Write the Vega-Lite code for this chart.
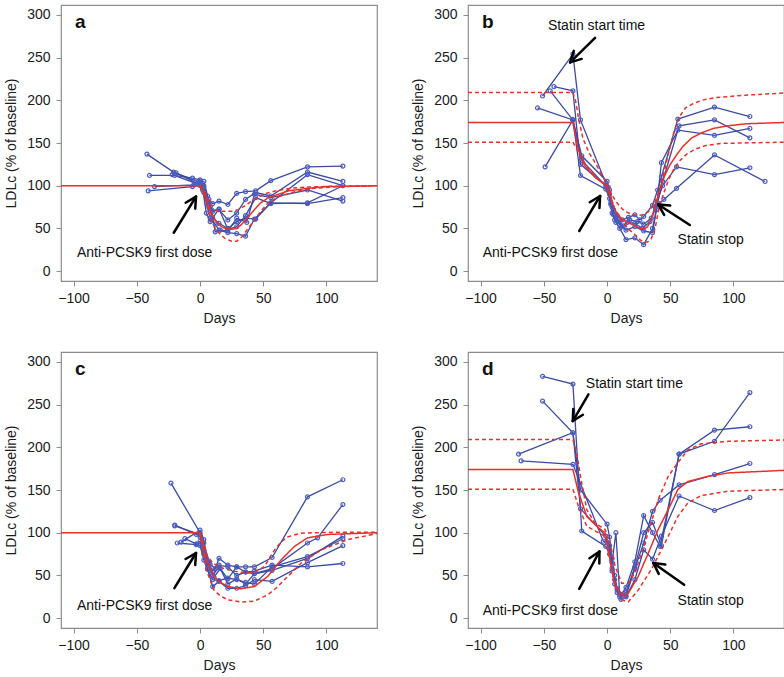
{
"$schema":"https://vega.github.io/schema/vega-lite/v6.json",
"background":"white",
"padding":{"left":4,"top":4,"right":0,"bottom":0},
"autosize":{"type":"pad"},
"columns":2,
"spacing":{"row":25,"column":33},
"datasets":{
"subj":[
{"p":"a","id":1,"day":-42,"ldl":137},{"p":"a","id":1,"day":-21,"ldl":116},{"p":"a","id":1,"day":0,"ldl":104},{"p":"a","id":1,"day":3,"ldl":98},{"p":"a","id":1,"day":7,"ldl":84},{"p":"a","id":1,"day":10,"ldl":79},{"p":"a","id":1,"day":15,"ldl":82},{"p":"a","id":1,"day":22,"ldl":78},{"p":"a","id":1,"day":29,"ldl":91},{"p":"a","id":1,"day":36,"ldl":93},{"p":"a","id":1,"day":44,"ldl":94},{"p":"a","id":1,"day":56,"ldl":106},{"p":"a","id":1,"day":85,"ldl":122},{"p":"a","id":1,"day":113,"ldl":123},
{"p":"a","id":2,"day":-40,"ldl":112},{"p":"a","id":2,"day":-20,"ldl":112},{"p":"a","id":2,"day":-6,"ldl":109},{"p":"a","id":2,"day":0,"ldl":107},{"p":"a","id":2,"day":3,"ldl":100},{"p":"a","id":2,"day":7,"ldl":80},{"p":"a","id":2,"day":10,"ldl":70},{"p":"a","id":2,"day":15,"ldl":72},{"p":"a","id":2,"day":22,"ldl":60},{"p":"a","id":2,"day":29,"ldl":68},{"p":"a","id":2,"day":36,"ldl":84},{"p":"a","id":2,"day":44,"ldl":92},{"p":"a","id":2,"day":56,"ldl":88},{"p":"a","id":2,"day":85,"ldl":116},{"p":"a","id":2,"day":113,"ldl":105},
{"p":"a","id":3,"day":-36,"ldl":99},{"p":"a","id":3,"day":-5,"ldl":101},{"p":"a","id":3,"day":0,"ldl":103},{"p":"a","id":3,"day":3,"ldl":92},{"p":"a","id":3,"day":7,"ldl":75},{"p":"a","id":3,"day":10,"ldl":62},{"p":"a","id":3,"day":15,"ldl":56},{"p":"a","id":3,"day":22,"ldl":50},{"p":"a","id":3,"day":29,"ldl":58},{"p":"a","id":3,"day":36,"ldl":62},{"p":"a","id":3,"day":44,"ldl":61},{"p":"a","id":3,"day":56,"ldl":80},{"p":"a","id":3,"day":85,"ldl":113},{"p":"a","id":3,"day":113,"ldl":100},
{"p":"a","id":4,"day":-41,"ldl":94},{"p":"a","id":4,"day":-6,"ldl":99},{"p":"a","id":4,"day":0,"ldl":100},{"p":"a","id":4,"day":2,"ldl":95},{"p":"a","id":4,"day":5,"ldl":80},{"p":"a","id":4,"day":8,"ldl":62},{"p":"a","id":4,"day":12,"ldl":55},{"p":"a","id":4,"day":15,"ldl":48},{"p":"a","id":4,"day":22,"ldl":45},{"p":"a","id":4,"day":29,"ldl":44},{"p":"a","id":4,"day":36,"ldl":41},{"p":"a","id":4,"day":43,"ldl":61},{"p":"a","id":4,"day":56,"ldl":80},{"p":"a","id":4,"day":85,"ldl":79},{"p":"a","id":4,"day":113,"ldl":86},
{"p":"a","id":5,"day":-19,"ldl":115},{"p":"a","id":5,"day":-4,"ldl":104},{"p":"a","id":5,"day":0,"ldl":106},{"p":"a","id":5,"day":3,"ldl":105},{"p":"a","id":5,"day":6,"ldl":88},{"p":"a","id":5,"day":9,"ldl":72},{"p":"a","id":5,"day":12,"ldl":46},{"p":"a","id":5,"day":16,"ldl":48},{"p":"a","id":5,"day":22,"ldl":47},{"p":"a","id":5,"day":29,"ldl":62},{"p":"a","id":5,"day":37,"ldl":57},{"p":"a","id":5,"day":43,"ldl":90},{"p":"a","id":5,"day":56,"ldl":86},{"p":"a","id":5,"day":85,"ldl":95},{"p":"a","id":5,"day":113,"ldl":82},
{"p":"a","id":6,"day":-22,"ldl":113},{"p":"a","id":6,"day":0,"ldl":101},{"p":"a","id":6,"day":2,"ldl":97},{"p":"a","id":6,"day":5,"ldl":68},{"p":"a","id":6,"day":8,"ldl":58},{"p":"a","id":6,"day":15,"ldl":73},{"p":"a","id":6,"day":22,"ldl":49},{"p":"a","id":6,"day":29,"ldl":52},{"p":"a","id":6,"day":36,"ldl":65},{"p":"a","id":6,"day":44,"ldl":86},{"p":"a","id":6,"day":56,"ldl":79},{"p":"a","id":6,"day":85,"ldl":80},{"p":"a","id":6,"day":113,"ldl":100},
{"p":"b","id":1,"day":-51,"ldl":205},{"p":"b","id":1,"day":-27,"ldl":254},{"p":"b","id":1,"day":-21,"ldl":177},{"p":"b","id":1,"day":-1,"ldl":103},{"p":"b","id":1,"day":1,"ldl":98},{"p":"b","id":1,"day":3,"ldl":80},{"p":"b","id":1,"day":5,"ldl":70},{"p":"b","id":1,"day":8,"ldl":65},{"p":"b","id":1,"day":12,"ldl":60},{"p":"b","id":1,"day":17,"ldl":63},{"p":"b","id":1,"day":22,"ldl":66},{"p":"b","id":1,"day":26,"ldl":60},{"p":"b","id":1,"day":29,"ldl":64},{"p":"b","id":1,"day":36,"ldl":77},{"p":"b","id":1,"day":40,"ldl":95},{"p":"b","id":1,"day":43,"ldl":110},{"p":"b","id":1,"day":56,"ldl":178},{"p":"b","id":1,"day":85,"ldl":192},{"p":"b","id":1,"day":113,"ldl":181},
{"p":"b","id":2,"day":-42,"ldl":216},{"p":"b","id":2,"day":-27,"ldl":211},{"p":"b","id":2,"day":-21,"ldl":125},{"p":"b","id":2,"day":-1,"ldl":100},{"p":"b","id":2,"day":2,"ldl":90},{"p":"b","id":2,"day":4,"ldl":75},{"p":"b","id":2,"day":6,"ldl":60},{"p":"b","id":2,"day":10,"ldl":55},{"p":"b","id":2,"day":15,"ldl":48},{"p":"b","id":2,"day":22,"ldl":52},{"p":"b","id":2,"day":29,"ldl":47},{"p":"b","id":2,"day":36,"ldl":45},{"p":"b","id":2,"day":40,"ldl":80},{"p":"b","id":2,"day":44,"ldl":105},{"p":"b","id":2,"day":57,"ldl":170},{"p":"b","id":2,"day":85,"ldl":177},{"p":"b","id":2,"day":113,"ldl":156},
{"p":"b","id":3,"day":-55,"ldl":191},{"p":"b","id":3,"day":-27,"ldl":177},{"p":"b","id":3,"day":-21,"ldl":112},{"p":"b","id":3,"day":-1,"ldl":96},{"p":"b","id":3,"day":2,"ldl":85},{"p":"b","id":3,"day":4,"ldl":68},{"p":"b","id":3,"day":7,"ldl":57},{"p":"b","id":3,"day":10,"ldl":50},{"p":"b","id":3,"day":15,"ldl":37},{"p":"b","id":3,"day":22,"ldl":39},{"p":"b","id":3,"day":29,"ldl":31},{"p":"b","id":3,"day":36,"ldl":50},{"p":"b","id":3,"day":39,"ldl":72},{"p":"b","id":3,"day":43,"ldl":127},{"p":"b","id":3,"day":56,"ldl":165},{"p":"b","id":3,"day":85,"ldl":159},{"p":"b","id":3,"day":113,"ldl":167},
{"p":"b","id":4,"day":-49,"ldl":122},{"p":"b","id":4,"day":-27,"ldl":177},{"p":"b","id":4,"day":-20,"ldl":135},{"p":"b","id":4,"day":0,"ldl":105},{"p":"b","id":4,"day":2,"ldl":95},{"p":"b","id":4,"day":5,"ldl":72},{"p":"b","id":4,"day":8,"ldl":62},{"p":"b","id":4,"day":12,"ldl":52},{"p":"b","id":4,"day":16,"ldl":57},{"p":"b","id":4,"day":22,"ldl":56},{"p":"b","id":4,"day":28,"ldl":50},{"p":"b","id":4,"day":34,"ldl":58},{"p":"b","id":4,"day":38,"ldl":75},{"p":"b","id":4,"day":44,"ldl":100},{"p":"b","id":4,"day":55,"ldl":122},{"p":"b","id":4,"day":85,"ldl":113},{"p":"b","id":4,"day":113,"ldl":121},
{"p":"b","id":5,"day":-45,"ldl":211},{"p":"b","id":5,"day":-27,"ldl":177},{"p":"b","id":5,"day":-20,"ldl":130},{"p":"b","id":5,"day":0,"ldl":98},{"p":"b","id":5,"day":3,"ldl":78},{"p":"b","id":5,"day":5,"ldl":66},{"p":"b","id":5,"day":9,"ldl":58},{"p":"b","id":5,"day":13,"ldl":53},{"p":"b","id":5,"day":18,"ldl":60},{"p":"b","id":5,"day":24,"ldl":58},{"p":"b","id":5,"day":29,"ldl":55},{"p":"b","id":5,"day":35,"ldl":62},{"p":"b","id":5,"day":40,"ldl":78},{"p":"b","id":5,"day":45,"ldl":84},{"p":"b","id":5,"day":55,"ldl":97},{"p":"b","id":5,"day":85,"ldl":136},{"p":"b","id":5,"day":125,"ldl":105},
{"p":"c","id":1,"day":-23,"ldl":158},{"p":"c","id":1,"day":0,"ldl":100},{"p":"c","id":1,"day":2,"ldl":85},{"p":"c","id":1,"day":5,"ldl":70},{"p":"c","id":1,"day":8,"ldl":63},{"p":"c","id":1,"day":12,"ldl":58},{"p":"c","id":1,"day":15,"ldl":70},{"p":"c","id":1,"day":22,"ldl":62},{"p":"c","id":1,"day":29,"ldl":60},{"p":"c","id":1,"day":36,"ldl":60},{"p":"c","id":1,"day":43,"ldl":60},{"p":"c","id":1,"day":57,"ldl":71},{"p":"c","id":1,"day":85,"ldl":142},{"p":"c","id":1,"day":113,"ldl":162},
{"p":"c","id":2,"day":-20,"ldl":109},{"p":"c","id":2,"day":-3,"ldl":98},{"p":"c","id":2,"day":0,"ldl":95},{"p":"c","id":2,"day":3,"ldl":80},{"p":"c","id":2,"day":6,"ldl":66},{"p":"c","id":2,"day":10,"ldl":55},{"p":"c","id":2,"day":15,"ldl":62},{"p":"c","id":2,"day":22,"ldl":60},{"p":"c","id":2,"day":29,"ldl":50},{"p":"c","id":2,"day":36,"ldl":54},{"p":"c","id":2,"day":43,"ldl":52},{"p":"c","id":2,"day":57,"ldl":58},{"p":"c","id":2,"day":85,"ldl":88},{"p":"c","id":2,"day":93,"ldl":94},{"p":"c","id":2,"day":113,"ldl":133},
{"p":"c","id":3,"day":-18,"ldl":88},{"p":"c","id":3,"day":-3,"ldl":86},{"p":"c","id":3,"day":0,"ldl":90},{"p":"c","id":3,"day":3,"ldl":75},{"p":"c","id":3,"day":6,"ldl":58},{"p":"c","id":3,"day":10,"ldl":45},{"p":"c","id":3,"day":15,"ldl":44},{"p":"c","id":3,"day":22,"ldl":47},{"p":"c","id":3,"day":29,"ldl":45},{"p":"c","id":3,"day":36,"ldl":42},{"p":"c","id":3,"day":43,"ldl":40},{"p":"c","id":3,"day":57,"ldl":60},{"p":"c","id":3,"day":85,"ldl":72},{"p":"c","id":3,"day":113,"ldl":93},
{"p":"c","id":4,"day":-12,"ldl":93},{"p":"c","id":4,"day":-3,"ldl":87},{"p":"c","id":4,"day":0,"ldl":85},{"p":"c","id":4,"day":3,"ldl":68},{"p":"c","id":4,"day":6,"ldl":57},{"p":"c","id":4,"day":10,"ldl":37},{"p":"c","id":4,"day":15,"ldl":43},{"p":"c","id":4,"day":22,"ldl":35},{"p":"c","id":4,"day":29,"ldl":35},{"p":"c","id":4,"day":36,"ldl":38},{"p":"c","id":4,"day":43,"ldl":45},{"p":"c","id":4,"day":57,"ldl":43},{"p":"c","id":4,"day":85,"ldl":65},{"p":"c","id":4,"day":113,"ldl":85},
{"p":"c","id":5,"day":-15,"ldl":89},{"p":"c","id":5,"day":0,"ldl":103},{"p":"c","id":5,"day":3,"ldl":92},{"p":"c","id":5,"day":6,"ldl":62},{"p":"c","id":5,"day":10,"ldl":50},{"p":"c","id":5,"day":15,"ldl":60},{"p":"c","id":5,"day":22,"ldl":46},{"p":"c","id":5,"day":29,"ldl":60},{"p":"c","id":5,"day":36,"ldl":54},{"p":"c","id":5,"day":43,"ldl":55},{"p":"c","id":5,"day":57,"ldl":62},{"p":"c","id":5,"day":85,"ldl":60},{"p":"c","id":5,"day":113,"ldl":64},
{"p":"c","id":6,"day":-20,"ldl":108},{"p":"c","id":6,"day":0,"ldl":98},{"p":"c","id":6,"day":3,"ldl":88},{"p":"c","id":6,"day":7,"ldl":65},{"p":"c","id":6,"day":11,"ldl":48},{"p":"c","id":6,"day":16,"ldl":58},{"p":"c","id":6,"day":22,"ldl":40},{"p":"c","id":6,"day":29,"ldl":46},{"p":"c","id":6,"day":36,"ldl":40},{"p":"c","id":6,"day":43,"ldl":52},{"p":"c","id":6,"day":57,"ldl":56},{"p":"c","id":6,"day":85,"ldl":70},{"p":"c","id":6,"day":113,"ldl":96},
{"p":"d","id":1,"day":-51,"ldl":283},{"p":"d","id":1,"day":-27,"ldl":274},{"p":"d","id":1,"day":-20,"ldl":102},{"p":"d","id":1,"day":-1,"ldl":84},{"p":"d","id":1,"day":2,"ldl":75},{"p":"d","id":1,"day":4,"ldl":55},{"p":"d","id":1,"day":6,"ldl":45},{"p":"d","id":1,"day":8,"ldl":35},{"p":"d","id":1,"day":11,"ldl":27},{"p":"d","id":1,"day":15,"ldl":30},{"p":"d","id":1,"day":22,"ldl":60},{"p":"d","id":1,"day":29,"ldl":100},{"p":"d","id":1,"day":36,"ldl":112},{"p":"d","id":1,"day":43,"ldl":85},{"p":"d","id":1,"day":57,"ldl":192},{"p":"d","id":1,"day":85,"ldl":220},{"p":"d","id":1,"day":113,"ldl":224},
{"p":"d","id":2,"day":-51,"ldl":254},{"p":"d","id":2,"day":-27,"ldl":217},{"p":"d","id":2,"day":-21,"ldl":150},{"p":"d","id":2,"day":0,"ldl":110},{"p":"d","id":2,"day":2,"ldl":95},{"p":"d","id":2,"day":4,"ldl":70},{"p":"d","id":2,"day":6,"ldl":50},{"p":"d","id":2,"day":8,"ldl":33},{"p":"d","id":2,"day":10,"ldl":25},{"p":"d","id":2,"day":15,"ldl":36},{"p":"d","id":2,"day":22,"ldl":66},{"p":"d","id":2,"day":29,"ldl":120},{"p":"d","id":2,"day":36,"ldl":100},{"p":"d","id":2,"day":42,"ldl":84},{"p":"d","id":2,"day":57,"ldl":192},{"p":"d","id":2,"day":85,"ldl":207},{"p":"d","id":2,"day":113,"ldl":264},
{"p":"d","id":3,"day":-70,"ldl":192},{"p":"d","id":3,"day":-27,"ldl":217},{"p":"d","id":3,"day":-21,"ldl":128},{"p":"d","id":3,"day":-1,"ldl":96},{"p":"d","id":3,"day":2,"ldl":85},{"p":"d","id":3,"day":4,"ldl":65},{"p":"d","id":3,"day":7,"ldl":100},{"p":"d","id":3,"day":10,"ldl":28},{"p":"d","id":3,"day":15,"ldl":26},{"p":"d","id":3,"day":22,"ldl":58},{"p":"d","id":3,"day":29,"ldl":88},{"p":"d","id":3,"day":36,"ldl":125},{"p":"d","id":3,"day":42,"ldl":138},{"p":"d","id":3,"day":57,"ldl":156},{"p":"d","id":3,"day":85,"ldl":168},{"p":"d","id":3,"day":113,"ldl":181},
{"p":"d","id":4,"day":-68,"ldl":184},{"p":"d","id":4,"day":-27,"ldl":180},{"p":"d","id":4,"day":-3,"ldl":90},{"p":"d","id":4,"day":0,"ldl":89},{"p":"d","id":4,"day":2,"ldl":80},{"p":"d","id":4,"day":4,"ldl":58},{"p":"d","id":4,"day":6,"ldl":40},{"p":"d","id":4,"day":8,"ldl":30},{"p":"d","id":4,"day":11,"ldl":22},{"p":"d","id":4,"day":15,"ldl":25},{"p":"d","id":4,"day":22,"ldl":45},{"p":"d","id":4,"day":29,"ldl":80},{"p":"d","id":4,"day":36,"ldl":69},{"p":"d","id":4,"day":43,"ldl":96},{"p":"d","id":4,"day":57,"ldl":143},{"p":"d","id":4,"day":85,"ldl":126},{"p":"d","id":4,"day":113,"ldl":141}
],
"model":[
{"p":"a","c":"med","day":-110,"ldl":100},{"p":"a","c":"med","day":0,"ldl":100},{"p":"a","c":"med","day":3,"ldl":92},{"p":"a","c":"med","day":6,"ldl":80},{"p":"a","c":"med","day":9,"ldl":68},{"p":"a","c":"med","day":12,"ldl":60},{"p":"a","c":"med","day":16,"ldl":53},{"p":"a","c":"med","day":20,"ldl":50},{"p":"a","c":"med","day":25,"ldl":49},{"p":"a","c":"med","day":29,"ldl":50},{"p":"a","c":"med","day":33,"ldl":55},{"p":"a","c":"med","day":38,"ldl":63},{"p":"a","c":"med","day":43,"ldl":72},{"p":"a","c":"med","day":48,"ldl":80},{"p":"a","c":"med","day":54,"ldl":86},{"p":"a","c":"med","day":60,"ldl":89},{"p":"a","c":"med","day":70,"ldl":94},{"p":"a","c":"med","day":85,"ldl":97},{"p":"a","c":"med","day":100,"ldl":99},{"p":"a","c":"med","day":140,"ldl":100},
{"p":"a","c":"hi","day":0,"ldl":100},{"p":"a","c":"hi","day":3,"ldl":94},{"p":"a","c":"hi","day":6,"ldl":85},{"p":"a","c":"hi","day":9,"ldl":77},{"p":"a","c":"hi","day":12,"ldl":72},{"p":"a","c":"hi","day":16,"ldl":70},{"p":"a","c":"hi","day":20,"ldl":70},{"p":"a","c":"hi","day":25,"ldl":70},{"p":"a","c":"hi","day":30,"ldl":72},{"p":"a","c":"hi","day":35,"ldl":76},{"p":"a","c":"hi","day":40,"ldl":81},{"p":"a","c":"hi","day":45,"ldl":86},{"p":"a","c":"hi","day":52,"ldl":91},{"p":"a","c":"hi","day":60,"ldl":94},{"p":"a","c":"hi","day":72,"ldl":97},{"p":"a","c":"hi","day":85,"ldl":98.5},{"p":"a","c":"hi","day":110,"ldl":99.5},{"p":"a","c":"hi","day":140,"ldl":100},
{"p":"a","c":"lo","day":0,"ldl":100},{"p":"a","c":"lo","day":3,"ldl":90},{"p":"a","c":"lo","day":6,"ldl":75},{"p":"a","c":"lo","day":9,"ldl":60},{"p":"a","c":"lo","day":12,"ldl":50},{"p":"a","c":"lo","day":16,"ldl":43},{"p":"a","c":"lo","day":20,"ldl":38},{"p":"a","c":"lo","day":25,"ldl":35},{"p":"a","c":"lo","day":29,"ldl":35},{"p":"a","c":"lo","day":33,"ldl":40},{"p":"a","c":"lo","day":38,"ldl":50},{"p":"a","c":"lo","day":43,"ldl":60},{"p":"a","c":"lo","day":48,"ldl":70},{"p":"a","c":"lo","day":54,"ldl":80},{"p":"a","c":"lo","day":62,"ldl":87},{"p":"a","c":"lo","day":75,"ldl":93},{"p":"a","c":"lo","day":90,"ldl":97},{"p":"a","c":"lo","day":110,"ldl":99},{"p":"a","c":"lo","day":140,"ldl":100},
{"p":"b","c":"med","day":-110,"ldl":174},{"p":"b","c":"med","day":-27,"ldl":174},{"p":"b","c":"med","day":-23,"ldl":144},{"p":"b","c":"med","day":-18,"ldl":124},{"p":"b","c":"med","day":-9,"ldl":109},{"p":"b","c":"med","day":-1,"ldl":101},{"p":"b","c":"med","day":2,"ldl":90},{"p":"b","c":"med","day":4,"ldl":80},{"p":"b","c":"med","day":7,"ldl":70},{"p":"b","c":"med","day":11,"ldl":62},{"p":"b","c":"med","day":16,"ldl":57},{"p":"b","c":"med","day":21,"ldl":54},{"p":"b","c":"med","day":25,"ldl":51},{"p":"b","c":"med","day":29,"ldl":49},{"p":"b","c":"med","day":32,"ldl":52},{"p":"b","c":"med","day":35,"ldl":60},{"p":"b","c":"med","day":38,"ldl":75},{"p":"b","c":"med","day":41,"ldl":92},{"p":"b","c":"med","day":45,"ldl":110},{"p":"b","c":"med","day":50,"ldl":125},{"p":"b","c":"med","day":55,"ldl":136},{"p":"b","c":"med","day":60,"ldl":146},{"p":"b","c":"med","day":67,"ldl":156},{"p":"b","c":"med","day":75,"ldl":162},{"p":"b","c":"med","day":84,"ldl":167},{"p":"b","c":"med","day":95,"ldl":170},{"p":"b","c":"med","day":110,"ldl":172.5},{"p":"b","c":"med","day":140,"ldl":174},
{"p":"b","c":"hi","day":-110,"ldl":209},{"p":"b","c":"hi","day":-27,"ldl":209},{"p":"b","c":"hi","day":-25,"ldl":200},{"p":"b","c":"hi","day":-22,"ldl":175},{"p":"b","c":"hi","day":-19,"ldl":155},{"p":"b","c":"hi","day":-14,"ldl":138},{"p":"b","c":"hi","day":-9,"ldl":126},{"p":"b","c":"hi","day":-4,"ldl":112},{"p":"b","c":"hi","day":0,"ldl":103},{"p":"b","c":"hi","day":3,"ldl":92},{"p":"b","c":"hi","day":6,"ldl":84},{"p":"b","c":"hi","day":10,"ldl":76},{"p":"b","c":"hi","day":14,"ldl":70},{"p":"b","c":"hi","day":19,"ldl":67},{"p":"b","c":"hi","day":24,"ldl":65},{"p":"b","c":"hi","day":29,"ldl":66},{"p":"b","c":"hi","day":33,"ldl":70},{"p":"b","c":"hi","day":37,"ldl":78},{"p":"b","c":"hi","day":41,"ldl":92},{"p":"b","c":"hi","day":45,"ldl":115},{"p":"b","c":"hi","day":49,"ldl":140},{"p":"b","c":"hi","day":53,"ldl":163},{"p":"b","c":"hi","day":57,"ldl":180},{"p":"b","c":"hi","day":62,"ldl":191},{"p":"b","c":"hi","day":68,"ldl":196},{"p":"b","c":"hi","day":75,"ldl":200},{"p":"b","c":"hi","day":85,"ldl":203},{"p":"b","c":"hi","day":110,"ldl":206},{"p":"b","c":"hi","day":140,"ldl":208.5},
{"p":"b","c":"lo","day":-110,"ldl":151},{"p":"b","c":"lo","day":-27,"ldl":151},{"p":"b","c":"lo","day":-24,"ldl":143},{"p":"b","c":"lo","day":-20,"ldl":132},{"p":"b","c":"lo","day":-15,"ldl":121},{"p":"b","c":"lo","day":-10,"ldl":112},{"p":"b","c":"lo","day":-5,"ldl":105},{"p":"b","c":"lo","day":0,"ldl":99},{"p":"b","c":"lo","day":3,"ldl":86},{"p":"b","c":"lo","day":6,"ldl":73},{"p":"b","c":"lo","day":10,"ldl":62},{"p":"b","c":"lo","day":14,"ldl":55},{"p":"b","c":"lo","day":18,"ldl":48},{"p":"b","c":"lo","day":22,"ldl":43},{"p":"b","c":"lo","day":26,"ldl":37},{"p":"b","c":"lo","day":29,"ldl":34},{"p":"b","c":"lo","day":32,"ldl":34},{"p":"b","c":"lo","day":35,"ldl":38},{"p":"b","c":"lo","day":38,"ldl":50},{"p":"b","c":"lo","day":41,"ldl":73},{"p":"b","c":"lo","day":45,"ldl":92},{"p":"b","c":"lo","day":49,"ldl":108},{"p":"b","c":"lo","day":53,"ldl":120},{"p":"b","c":"lo","day":58,"ldl":130},{"p":"b","c":"lo","day":63,"ldl":137},{"p":"b","c":"lo","day":70,"ldl":143},{"p":"b","c":"lo","day":78,"ldl":147},{"p":"b","c":"lo","day":90,"ldl":149.5},{"p":"b","c":"lo","day":140,"ldl":151},
{"p":"c","c":"med","day":-110,"ldl":100},{"p":"c","c":"med","day":0,"ldl":100},{"p":"c","c":"med","day":3.4,"ldl":76},{"p":"c","c":"med","day":7,"ldl":62},{"p":"c","c":"med","day":11,"ldl":49},{"p":"c","c":"med","day":16,"ldl":42},{"p":"c","c":"med","day":22,"ldl":37},{"p":"c","c":"med","day":32,"ldl":34.4},{"p":"c","c":"med","day":43,"ldl":37},{"p":"c","c":"med","day":53.6,"ldl":49},{"p":"c","c":"med","day":64,"ldl":68},{"p":"c","c":"med","day":74.7,"ldl":84},{"p":"c","c":"med","day":85,"ldl":94},{"p":"c","c":"med","day":101,"ldl":98},{"p":"c","c":"med","day":140,"ldl":100},
{"p":"c","c":"hi","day":0,"ldl":100},{"p":"c","c":"hi","day":2,"ldl":92},{"p":"c","c":"hi","day":6,"ldl":72},{"p":"c","c":"hi","day":10,"ldl":65},{"p":"c","c":"hi","day":14,"ldl":60.6},{"p":"c","c":"hi","day":20,"ldl":57.5},{"p":"c","c":"hi","day":27,"ldl":55},{"p":"c","c":"hi","day":37.7,"ldl":53},{"p":"c","c":"hi","day":45,"ldl":55},{"p":"c","c":"hi","day":51,"ldl":60.6},{"p":"c","c":"hi","day":59,"ldl":80},{"p":"c","c":"hi","day":64,"ldl":89},{"p":"c","c":"hi","day":69,"ldl":95},{"p":"c","c":"hi","day":80,"ldl":99.5},{"p":"c","c":"hi","day":106,"ldl":100.5},{"p":"c","c":"hi","day":140,"ldl":100.5},
{"p":"c","c":"lo","day":0,"ldl":100},{"p":"c","c":"lo","day":1,"ldl":92},{"p":"c","c":"lo","day":5,"ldl":56.7},{"p":"c","c":"lo","day":11,"ldl":33},{"p":"c","c":"lo","day":16,"ldl":26},{"p":"c","c":"lo","day":22,"ldl":21.5},{"p":"c","c":"lo","day":32.5,"ldl":18.8},{"p":"c","c":"lo","day":43,"ldl":20},{"p":"c","c":"lo","day":53.6,"ldl":27.4},{"p":"c","c":"lo","day":60,"ldl":35},{"p":"c","c":"lo","day":66.8,"ldl":45},{"p":"c","c":"lo","day":80,"ldl":64.5},{"p":"c","c":"lo","day":96,"ldl":80},{"p":"c","c":"lo","day":117,"ldl":92},{"p":"c","c":"lo","day":140,"ldl":99},
{"p":"d","c":"med","day":-110,"ldl":174},{"p":"d","c":"med","day":-27,"ldl":174},{"p":"d","c":"med","day":-22.6,"ldl":147},{"p":"d","c":"med","day":-16,"ldl":119},{"p":"d","c":"med","day":-7,"ldl":106},{"p":"d","c":"med","day":-1.6,"ldl":100},{"p":"d","c":"med","day":1,"ldl":80},{"p":"d","c":"med","day":3.7,"ldl":57},{"p":"d","c":"med","day":6.3,"ldl":37},{"p":"d","c":"med","day":11.6,"ldl":29},{"p":"d","c":"med","day":14,"ldl":25.4},{"p":"d","c":"med","day":16.8,"ldl":29},{"p":"d","c":"med","day":24.7,"ldl":49},{"p":"d","c":"med","day":32.6,"ldl":76},{"p":"d","c":"med","day":40.5,"ldl":104},{"p":"d","c":"med","day":48.4,"ldl":127},{"p":"d","c":"med","day":56,"ldl":150.6},{"p":"d","c":"med","day":64,"ldl":160},{"p":"d","c":"med","day":80,"ldl":166},{"p":"d","c":"med","day":96,"ldl":170},{"p":"d","c":"med","day":140,"ldl":173},
{"p":"d","c":"hi","day":-110,"ldl":209},{"p":"d","c":"hi","day":-27,"ldl":209},{"p":"d","c":"hi","day":-24,"ldl":193},{"p":"d","c":"hi","day":-21,"ldl":166},{"p":"d","c":"hi","day":-16,"ldl":127},{"p":"d","c":"hi","day":-9.5,"ldl":111},{"p":"d","c":"hi","day":-1.6,"ldl":104},{"p":"d","c":"hi","day":2.4,"ldl":88},{"p":"d","c":"hi","day":6.3,"ldl":61},{"p":"d","c":"hi","day":11.6,"ldl":41},{"p":"d","c":"hi","day":16.8,"ldl":41},{"p":"d","c":"hi","day":22,"ldl":53},{"p":"d","c":"hi","day":30,"ldl":88},{"p":"d","c":"hi","day":40.5,"ldl":139},{"p":"d","c":"hi","day":48.4,"ldl":166},{"p":"d","c":"hi","day":56,"ldl":182},{"p":"d","c":"hi","day":64,"ldl":197},{"p":"d","c":"hi","day":74.5,"ldl":204},{"p":"d","c":"hi","day":96,"ldl":207},{"p":"d","c":"hi","day":140,"ldl":208.5},
{"p":"d","c":"lo","day":-110,"ldl":151},{"p":"d","c":"lo","day":-27,"ldl":151},{"p":"d","c":"lo","day":-22.6,"ldl":131},{"p":"d","c":"lo","day":-16,"ldl":107.5},{"p":"d","c":"lo","day":-6.8,"ldl":100},{"p":"d","c":"lo","day":-1.6,"ldl":96},{"p":"d","c":"lo","day":2.4,"ldl":68},{"p":"d","c":"lo","day":6.3,"ldl":41},{"p":"d","c":"lo","day":11.6,"ldl":21.5},{"p":"d","c":"lo","day":16.8,"ldl":19},{"p":"d","c":"lo","day":24.7,"ldl":33},{"p":"d","c":"lo","day":35,"ldl":57},{"p":"d","c":"lo","day":45.8,"ldl":88},{"p":"d","c":"lo","day":56,"ldl":119},{"p":"d","c":"lo","day":64,"ldl":135},{"p":"d","c":"lo","day":74.5,"ldl":143.5},{"p":"d","c":"lo","day":96,"ldl":148.6},{"p":"d","c":"lo","day":140,"ldl":150.6}
],
"arrows":[
{"p":"a","day":-20.8,"ldl":45,"day2":-3.2,"ldl2":87.2},{"p":"a","day":-3.2,"ldl":87.2,"day2":-3.8,"ldl2":73.2},{"p":"a","day":-3.2,"ldl":87.2,"day2":-11.4,"ldl2":80.1},
{"p":"c","day":-20.3,"ldl":35.2,"day2":-3.2,"ldl2":76.3},{"p":"c","day":-3.2,"ldl":76.3,"day2":-3.8,"ldl2":62.3},{"p":"c","day":-3.2,"ldl":76.3,"day2":-11.4,"ldl2":69.2},
{"p":"b","day":-22,"ldl":47,"day2":-5.5,"ldl2":88},{"p":"b","day":-5.5,"ldl":88,"day2":-6.0,"ldl2":74.0},{"p":"b","day":-5.5,"ldl":88,"day2":-13.7,"ldl2":80.7},
{"p":"b","day":-9.5,"ldl":273,"day2":-29.2,"ldl2":244.4},{"p":"b","day":-29.2,"ldl":244.4,"day2":-26.3,"ldl2":257.8},{"p":"b","day":-29.2,"ldl":244.4,"day2":-20.1,"ldl2":248.4},
{"p":"b","day":65.5,"ldl":54,"day2":40.5,"ldl2":78},{"p":"b","day":40.5,"ldl":78,"day2":50.0,"ldl2":76.8},{"p":"b","day":40.5,"ldl":78,"day2":45.2,"ldl2":65.8},
{"p":"d","day":-14.7,"ldl":262,"day2":-27.1,"ldl2":230.7},{"p":"d","day":-27.1,"ldl":230.7,"day2":-26.7,"ldl2":244.7},{"p":"d","day":-27.1,"ldl":230.7,"day2":-19.1,"ldl2":238.0},
{"p":"d","day":-22,"ldl":34.4,"day2":-6,"ldl2":78},{"p":"d","day":-6,"ldl":78,"day2":-6.1,"ldl2":64.0},{"p":"d","day":-6,"ldl":78,"day2":-13.9,"ldl2":70.2},
{"p":"d","day":61,"ldl":39,"day2":36.6,"ldl2":64.5},{"p":"d","day":36.6,"ldl":64.5,"day2":46.1,"ldl2":62.7},{"p":"d","day":36.6,"ldl":64.5,"day2":40.9,"ldl2":51.9}
],
"notes":[
{"p":"a","day":-97.4,"ldl":16.8,"t":"Anti-PCSK9 first dose"},
{"p":"b","day":-98.4,"ldl":16.8,"t":"Anti-PCSK9 first dose"},
{"p":"b","day":-46.8,"ldl":282.8,"t":"Statin start time"},
{"p":"b","day":55.8,"ldl":31.7,"t":"Statin stop"},
{"p":"c","day":-97.4,"ldl":9.8,"t":"Anti-PCSK9 first dose"},
{"p":"d","day":-98.4,"ldl":3.9,"t":"Anti-PCSK9 first dose"},
{"p":"d","day":-16.8,"ldl":269.8,"t":"Statin start time"},
{"p":"d","day":55.8,"ldl":15.6,"t":"Statin stop"}
],
"letters":[
{"p":"a","day":-99,"ldl":285,"t":"a"},
{"p":"b","day":-99,"ldl":285,"t":"b"},
{"p":"c","day":-99,"ldl":285,"t":"c"},
{"p":"d","day":-99,"ldl":285,"t":"d"}
]
},
"concat":[
{"width":316,"height":276,"layer":[
{"data":{"name":"subj"},"transform":[{"filter":"datum.p=='a'"}],"mark":{"type":"line","color":"#3b4aa3","strokeWidth":1.3,"clip":true,"point":{"filled":false,"size":16,"strokeWidth":1.2,"color":"#4b5cc0"}},"encoding":{"x":{"field":"day","type":"quantitative","scale":{"domain":[-110,140],"nice":false,"zero":false},"axis":{"values":[-100,-50,0,50,100]},"title":"Days"},"y":{"field":"ldl","type":"quantitative","scale":{"domain":[-11.5,311.5],"nice":false,"zero":false},"axis":{"values":[0,50,100,150,200,250,300]},"title":"LDLc (% of baseline)"},"detail":{"field":"id"}}},
{"data":{"name":"model"},"transform":[{"filter":"datum.p=='a'"}],"mark":{"type":"line","color":"#e8302a","strokeWidth":1.5,"clip":true},"encoding":{"x":{"field":"day","type":"quantitative","title":"Days"},"y":{"field":"ldl","type":"quantitative","title":"LDLc (% of baseline)"},"detail":{"field":"c"},"strokeDash":{"field":"c","type":"nominal","scale":{"domain":["med","hi","lo"],"range":[[1,0],[4,3],[4,3]]},"legend":null}}},
{"data":{"name":"arrows"},"transform":[{"filter":"datum.p=='a'"}],"mark":{"type":"rule","color":"black","strokeWidth":2.5,"strokeCap":"round"},"encoding":{"x":{"field":"day","type":"quantitative","title":"Days"},"y":{"field":"ldl","type":"quantitative","title":"LDLc (% of baseline)"},"x2":{"field":"day2"},"y2":{"field":"ldl2"}}},
{"data":{"name":"notes"},"transform":[{"filter":"datum.p=='a'"}],"mark":{"type":"text","align":"left","baseline":"alphabetic","fontSize":14,"font":"Liberation Sans","color":"#111"},"encoding":{"x":{"field":"day","type":"quantitative","title":"Days"},"y":{"field":"ldl","type":"quantitative","title":"LDLc (% of baseline)"},"text":{"field":"t"}}},
{"data":{"name":"letters"},"transform":[{"filter":"datum.p=='a'"}],"mark":{"type":"text","align":"left","baseline":"alphabetic","fontSize":19,"fontWeight":"bold","font":"Liberation Sans","color":"#111"},"encoding":{"x":{"field":"day","type":"quantitative","title":"Days"},"y":{"field":"ldl","type":"quantitative","title":"LDLc (% of baseline)"},"text":{"field":"t"}}}
]},
{"width":316,"height":276,"layer":[
{"data":{"name":"subj"},"transform":[{"filter":"datum.p=='b'"}],"mark":{"type":"line","color":"#3b4aa3","strokeWidth":1.3,"clip":true,"point":{"filled":false,"size":16,"strokeWidth":1.2,"color":"#4b5cc0"}},"encoding":{"x":{"field":"day","type":"quantitative","scale":{"domain":[-110,140],"nice":false,"zero":false},"axis":{"values":[-100,-50,0,50,100]},"title":"Days"},"y":{"field":"ldl","type":"quantitative","scale":{"domain":[-11.5,311.5],"nice":false,"zero":false},"axis":{"values":[0,50,100,150,200,250,300]},"title":"LDLc (% of baseline)"},"detail":{"field":"id"}}},
{"data":{"name":"model"},"transform":[{"filter":"datum.p=='b'"}],"mark":{"type":"line","color":"#e8302a","strokeWidth":1.5,"clip":true},"encoding":{"x":{"field":"day","type":"quantitative","title":"Days"},"y":{"field":"ldl","type":"quantitative","title":"LDLc (% of baseline)"},"detail":{"field":"c"},"strokeDash":{"field":"c","type":"nominal","scale":{"domain":["med","hi","lo"],"range":[[1,0],[4,3],[4,3]]},"legend":null}}},
{"data":{"name":"arrows"},"transform":[{"filter":"datum.p=='b'"}],"mark":{"type":"rule","color":"black","strokeWidth":2.5,"strokeCap":"round"},"encoding":{"x":{"field":"day","type":"quantitative","title":"Days"},"y":{"field":"ldl","type":"quantitative","title":"LDLc (% of baseline)"},"x2":{"field":"day2"},"y2":{"field":"ldl2"}}},
{"data":{"name":"notes"},"transform":[{"filter":"datum.p=='b'"}],"mark":{"type":"text","align":"left","baseline":"alphabetic","fontSize":14,"font":"Liberation Sans","color":"#111"},"encoding":{"x":{"field":"day","type":"quantitative","title":"Days"},"y":{"field":"ldl","type":"quantitative","title":"LDLc (% of baseline)"},"text":{"field":"t"}}},
{"data":{"name":"letters"},"transform":[{"filter":"datum.p=='b'"}],"mark":{"type":"text","align":"left","baseline":"alphabetic","fontSize":19,"fontWeight":"bold","font":"Liberation Sans","color":"#111"},"encoding":{"x":{"field":"day","type":"quantitative","title":"Days"},"y":{"field":"ldl","type":"quantitative","title":"LDLc (% of baseline)"},"text":{"field":"t"}}}
]},
{"width":316,"height":276,"layer":[
{"data":{"name":"subj"},"transform":[{"filter":"datum.p=='c'"}],"mark":{"type":"line","color":"#3b4aa3","strokeWidth":1.3,"clip":true,"point":{"filled":false,"size":16,"strokeWidth":1.2,"color":"#4b5cc0"}},"encoding":{"x":{"field":"day","type":"quantitative","scale":{"domain":[-110,140],"nice":false,"zero":false},"axis":{"values":[-100,-50,0,50,100]},"title":"Days"},"y":{"field":"ldl","type":"quantitative","scale":{"domain":[-11.5,311.5],"nice":false,"zero":false},"axis":{"values":[0,50,100,150,200,250,300]},"title":"LDLc (% of baseline)"},"detail":{"field":"id"}}},
{"data":{"name":"model"},"transform":[{"filter":"datum.p=='c'"}],"mark":{"type":"line","color":"#e8302a","strokeWidth":1.5,"clip":true},"encoding":{"x":{"field":"day","type":"quantitative","title":"Days"},"y":{"field":"ldl","type":"quantitative","title":"LDLc (% of baseline)"},"detail":{"field":"c"},"strokeDash":{"field":"c","type":"nominal","scale":{"domain":["med","hi","lo"],"range":[[1,0],[4,3],[4,3]]},"legend":null}}},
{"data":{"name":"arrows"},"transform":[{"filter":"datum.p=='c'"}],"mark":{"type":"rule","color":"black","strokeWidth":2.5,"strokeCap":"round"},"encoding":{"x":{"field":"day","type":"quantitative","title":"Days"},"y":{"field":"ldl","type":"quantitative","title":"LDLc (% of baseline)"},"x2":{"field":"day2"},"y2":{"field":"ldl2"}}},
{"data":{"name":"notes"},"transform":[{"filter":"datum.p=='c'"}],"mark":{"type":"text","align":"left","baseline":"alphabetic","fontSize":14,"font":"Liberation Sans","color":"#111"},"encoding":{"x":{"field":"day","type":"quantitative","title":"Days"},"y":{"field":"ldl","type":"quantitative","title":"LDLc (% of baseline)"},"text":{"field":"t"}}},
{"data":{"name":"letters"},"transform":[{"filter":"datum.p=='c'"}],"mark":{"type":"text","align":"left","baseline":"alphabetic","fontSize":19,"fontWeight":"bold","font":"Liberation Sans","color":"#111"},"encoding":{"x":{"field":"day","type":"quantitative","title":"Days"},"y":{"field":"ldl","type":"quantitative","title":"LDLc (% of baseline)"},"text":{"field":"t"}}}
]},
{"width":316,"height":276,"layer":[
{"data":{"name":"subj"},"transform":[{"filter":"datum.p=='d'"}],"mark":{"type":"line","color":"#3b4aa3","strokeWidth":1.3,"clip":true,"point":{"filled":false,"size":16,"strokeWidth":1.2,"color":"#4b5cc0"}},"encoding":{"x":{"field":"day","type":"quantitative","scale":{"domain":[-110,140],"nice":false,"zero":false},"axis":{"values":[-100,-50,0,50,100]},"title":"Days"},"y":{"field":"ldl","type":"quantitative","scale":{"domain":[-11.5,311.5],"nice":false,"zero":false},"axis":{"values":[0,50,100,150,200,250,300]},"title":"LDLc (% of baseline)"},"detail":{"field":"id"}}},
{"data":{"name":"model"},"transform":[{"filter":"datum.p=='d'"}],"mark":{"type":"line","color":"#e8302a","strokeWidth":1.5,"clip":true},"encoding":{"x":{"field":"day","type":"quantitative","title":"Days"},"y":{"field":"ldl","type":"quantitative","title":"LDLc (% of baseline)"},"detail":{"field":"c"},"strokeDash":{"field":"c","type":"nominal","scale":{"domain":["med","hi","lo"],"range":[[1,0],[4,3],[4,3]]},"legend":null}}},
{"data":{"name":"arrows"},"transform":[{"filter":"datum.p=='d'"}],"mark":{"type":"rule","color":"black","strokeWidth":2.5,"strokeCap":"round"},"encoding":{"x":{"field":"day","type":"quantitative","title":"Days"},"y":{"field":"ldl","type":"quantitative","title":"LDLc (% of baseline)"},"x2":{"field":"day2"},"y2":{"field":"ldl2"}}},
{"data":{"name":"notes"},"transform":[{"filter":"datum.p=='d'"}],"mark":{"type":"text","align":"left","baseline":"alphabetic","fontSize":14,"font":"Liberation Sans","color":"#111"},"encoding":{"x":{"field":"day","type":"quantitative","title":"Days"},"y":{"field":"ldl","type":"quantitative","title":"LDLc (% of baseline)"},"text":{"field":"t"}}},
{"data":{"name":"letters"},"transform":[{"filter":"datum.p=='d'"}],"mark":{"type":"text","align":"left","baseline":"alphabetic","fontSize":19,"fontWeight":"bold","font":"Liberation Sans","color":"#111"},"encoding":{"x":{"field":"day","type":"quantitative","title":"Days"},"y":{"field":"ldl","type":"quantitative","title":"LDLc (% of baseline)"},"text":{"field":"t"}}}
]}
],
"config":{
"view":{"stroke":"#8c8c8c","strokeWidth":1.2},
"axis":{"grid":false,"domain":false,"tickColor":"#8c8c8c","tickSize":5,"labelFont":"Liberation Sans","labelFontSize":14,"labelColor":"#1a1a1a","titleFont":"Liberation Sans","titleFontSize":14,"titleFontWeight":"normal","titleColor":"#1a1a1a","labelPadding":5,"labelFlush":false,"labelOverlap":false},
"axisX":{"titlePadding":6},
"axisY":{"titlePadding":8,"labelPadding":6}
}
}
